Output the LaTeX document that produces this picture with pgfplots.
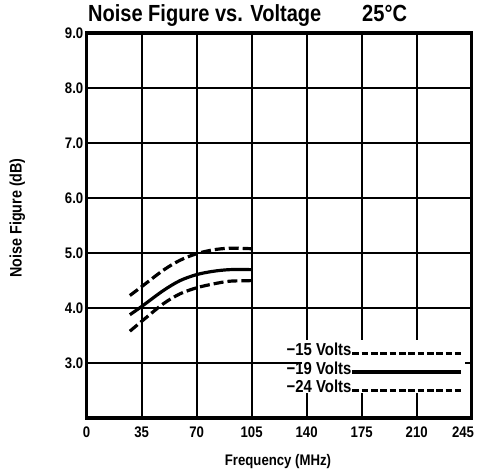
\documentclass[border=0pt]{standalone}
\usepackage{fontspec}
\setmainfont{Liberation Sans}[FakeStretch=0.86]
\usepackage{pgfplots}
\pgfplotsset{compat=1.18}

\begin{document}
\begin{tikzpicture}
\begin{axis}[
  scale only axis, width=289pt, height=289pt,
  xmin=0, xmax=245, ymin=2, ymax=9,
  xtick={0,35,70,105,140,175,210,245},
  ytick={3,4,5,6,7,8,9},
  xticklabels={\textbf{0},\textbf{35},\textbf{70},\textbf{105},\textbf{140},\textbf{175},\textbf{210},\kern-13pt\textbf{245}},
  yticklabels={\textbf{3.0},\textbf{4.0},\textbf{5.0},\textbf{6.0},\textbf{7.0},\textbf{8.0},\textbf{9.0}},
  tick label style={font=\bfseries\fontsize{11.5}{13}\selectfont},
  xticklabel style={yshift=-3pt},
  yticklabel style={xshift=1pt},
  grid=major, major grid style={black, line width=1.3pt},
  axis line style={line width=2.5pt},
  tick style={draw=none},
  clip=false,
]
% key background
\fill[white] (axis cs:137,2.45) rectangle (axis cs:241,3.42);
% -15 V
\addplot[black, line width=2.4pt, dash pattern=on 7.5pt off 3pt, smooth] coordinates {
  (27.5,4.23) (35,4.39) (48.8,4.69) (59.4,4.87) (70,4.99) (80.6,5.06) (91.2,5.09) (105,5.08)};
% -19 V
\addplot[black, line width=2.4pt, smooth] coordinates {
  (27.5,3.88) (35,4.03) (48.8,4.32) (59.4,4.50) (70,4.61) (80.6,4.67) (91.2,4.70) (105,4.70)};
% -24 V
\addplot[black, line width=2.4pt, dash pattern=on 7.5pt off 3pt, smooth] coordinates {
  (27.5,3.58) (35,3.76) (48.8,4.08) (59.4,4.26) (70,4.37) (80.6,4.44) (91.2,4.49) (105,4.50)};
% key lines
\addplot[black, line width=2.2pt, dash pattern=on 5pt off 2pt] coordinates {(169,3.18) (238,3.18)};
\addplot[black, line width=2.4pt] coordinates {(169,2.84) (238,2.84)};
\addplot[black, line width=2.2pt, dash pattern=on 5pt off 2pt] coordinates {(169,2.51) (238,2.51)};
\node[anchor=south east, inner sep=1pt, font=\bfseries\fontsize{13}{14}\selectfont] at (axis cs:169.5,3.11) {−15 Volts};
\node[anchor=south east, inner sep=1pt, font=\bfseries\fontsize{13}{14}\selectfont] at (axis cs:169.5,2.77) {−19 Volts};
\node[anchor=south east, inner sep=1pt, font=\bfseries\fontsize{13}{14}\selectfont] at (axis cs:169.5,2.44) {−24 Volts};
% titles and labels
\node[anchor=base west, inner sep=0pt, font=\bfseries\fontsize{17.5}{19}\selectfont] at (rel axis cs:0.003,1.03) {Noise Figure vs. Voltage};
\node[anchor=base west, inner sep=0pt, font=\bfseries\fontsize{17.5}{19}\selectfont] at (rel axis cs:0.715,1.03) {25°C};
\node[font=\bfseries\fontsize{11.5}{13}\selectfont] at (rel axis cs:0.497,-0.112) {Frequency (MHz)};
\node[rotate=90, font=\bfseries\fontsize{12.5}{14}\selectfont] at (rel axis cs:-0.18,0.52) {Noise Figure (dB)};
\path (rel axis cs:-0.225,-0.148) rectangle (rel axis cs:1.019,1.086);
\end{axis}
\end{tikzpicture}
\end{document}
